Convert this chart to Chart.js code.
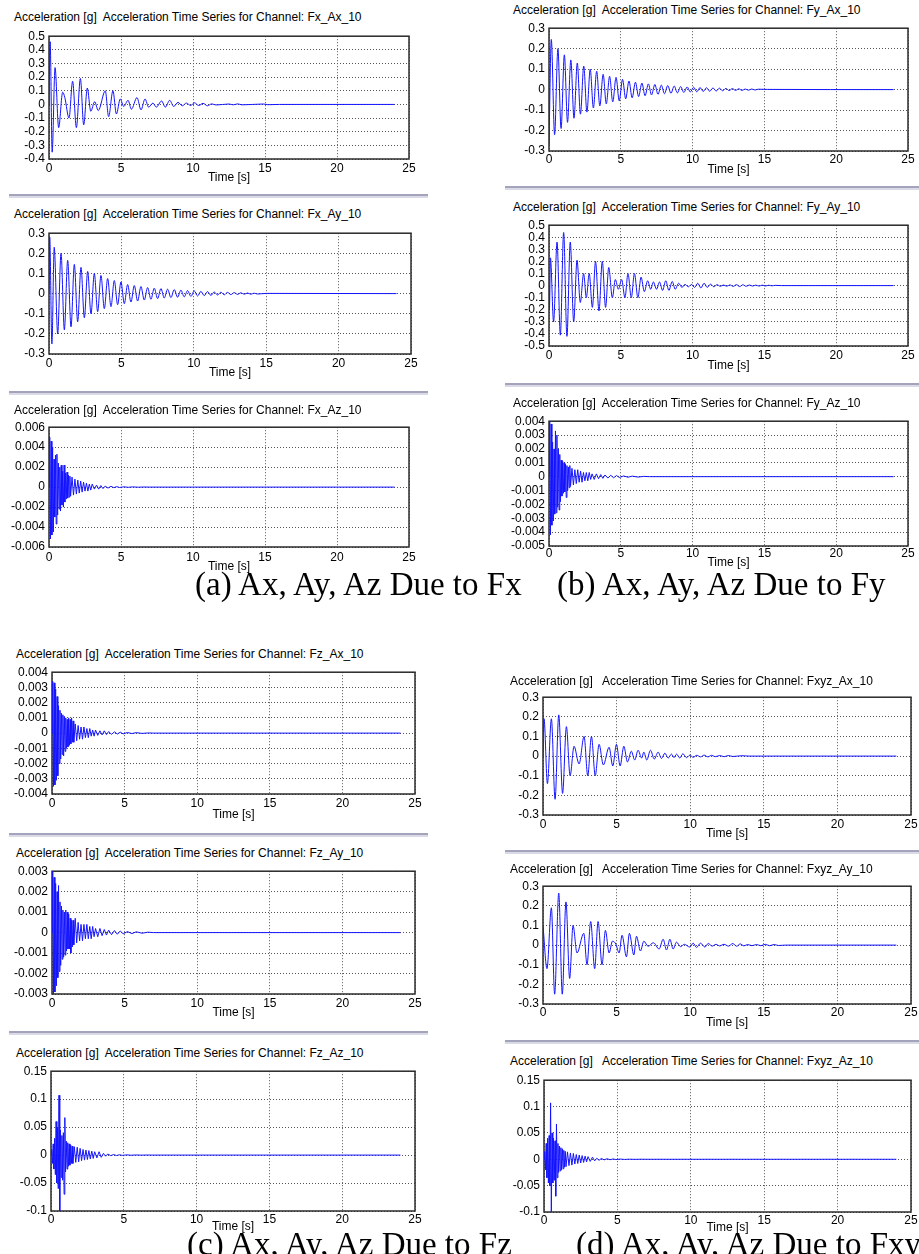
<!DOCTYPE html>
<html>
<head>
<meta charset="utf-8">
<script src="https://cdn.jsdelivr.net/npm/chart.js@4.4.0/dist/chart.umd.min.js"></script>
<style>
  html, body { margin: 0; padding: 0; background: #fff; }
  body { position: relative; width: 919px; height: 1254px; overflow: hidden; font-family: "Liberation Sans", Arial, sans-serif; }
  .ttl { position: absolute; font-size: 12px; line-height: 14px; white-space: pre; color: #000; }
  .cap { position: absolute; font-family: "Liberation Serif", "Times New Roman", serif; font-size: 33px; line-height: 36px; white-space: nowrap; color: #000; }
  .sep { position: absolute; height: 0; border-top: 2px solid #a3a3bb; border-bottom: 2px solid #dadae6; }
</style>
</head>
<body>
<script>
'use strict';

// x axis (time, seconds)
var xTicks = [0, 5, 10, 15, 20, 25];

// y axis ranges: [min, max, step]
var fxAxY = [-0.4, 0.5, 0.1];
var fxAyY = [-0.3, 0.3, 0.1];
var fxAzY = [-0.006, 0.006, 0.002];
var fyAxY = [-0.3, 0.3, 0.1];
var fyAyY = [-0.5, 0.5, 0.1];
var fyAzY = [-0.005, 0.004, 0.001];
var fzAxY = [-0.004, 0.004, 0.001];
var fzAyY = [-0.003, 0.003, 0.001];
var fzAzY = [-0.1, 0.15, 0.05];
var fxyzAxY = [-0.3, 0.3, 0.1];
var fxyzAyY = [-0.3, 0.3, 0.1];
var fxyzAzY = [-0.1, 0.15, 0.05];

// peaks and troughs
var fxAxTime = [0, 0.08, 0.22, 0.42, 0.67, 0.95, 1.1, 1.39, 1.64, 1.9, 2.18, 2.41, 2.66, 2.9, 3.17, 3.42, 3.91, 4.14, 4.44, 4.68,
  4.95, 5.19, 5.49, 5.72, 6.11, 6.39, 6.67, 6.92, 7.22, 7.45, 7.82, 8.08, 8.38, 8.66, 8.96, 9.26, 9.54, 9.84, 10.1, 10.4,
  10.7, 11.0, 11.3, 11.6, 12.5, 12.8, 13.1, 13.4, 14.9, 15.2, 16, 24];
var fxAxVal = [0, 0.46, -0.35, 0.27, -0.17, 0.09, 0.05, -0.10, 0.17, -0.17, 0.19, -0.15, 0.12, -0.05, 0.02, -0.045, 0.10, -0.09, 0.10, -0.07,
  0.04, -0.015, 0.03, -0.035, 0.05, -0.04, 0.04, -0.02, 0.01, -0.02, 0.025, -0.02, 0.03, -0.015, 0.015, -0.01, 0.01, -0.008, 0.012, -0.008,
  0.008, -0.01, 0.004, -0.004, 0.003, -0.003, 0.004, -0.003, 0.003, -0.002, 0, 0];

var fxAyTime = [0, 0.05, 0.2, 0.36, 0.6, 0.83, 1.06, 1.29, 1.52, 1.75, 1.98, 2.21, 2.44, 2.67, 2.9, 3.13, 3.36, 3.59, 3.82, 4.05,
  4.28, 4.51, 4.74, 4.97, 5.2, 5.43, 5.66, 5.89, 6.12, 6.35, 6.58, 6.81, 7.04, 7.27, 7.5, 7.73, 7.96, 8.19, 8.42, 8.65,
  8.88, 9.11, 9.34, 9.57, 9.8, 10.03, 10.26, 10.49, 10.72, 10.95, 11.18, 11.41, 11.64, 11.87, 12.1, 12.33, 12.56, 12.79, 13.02, 13.25,
  13.48, 13.71, 13.94, 14.17, 14.4, 15, 24];
var fxAyVal = [0, 0.28, -0.25, 0.23, -0.20, 0.20, -0.18, 0.165, -0.165, 0.145, -0.14, 0.13, -0.12, 0.11, -0.10, 0.10, -0.09, 0.09, -0.075, 0.075,
  -0.065, 0.065, -0.055, 0.058, -0.05, 0.045, -0.042, 0.04, -0.037, 0.035, -0.032, 0.03, -0.028, 0.027, -0.025, 0.025, -0.022, 0.022, -0.02, 0.02,
  -0.018, 0.017, -0.016, 0.015, -0.014, 0.014, -0.012, 0.011, -0.01, 0.01, -0.009, 0.008, -0.007, 0.007, -0.006, 0.006, -0.005, 0.005, -0.004, 0.004,
  -0.003, 0.003, -0.003, 0.002, -0.002, 0.001, 0];

var fyAxTime = [0, 0.16, 0.39, 0.62, 0.84, 1.07, 1.29, 1.52, 1.74, 1.97, 2.19, 2.42, 2.64, 2.87, 3.09, 3.32, 3.54, 3.77, 3.99, 4.22,
  4.44, 4.67, 4.89, 5.12, 5.34, 5.57, 5.79, 6.02, 6.24, 6.47, 6.69, 6.92, 7.14, 7.37, 7.59, 7.82, 8.04, 8.27, 8.49, 8.72,
  8.94, 9.17, 9.39, 9.62, 9.84, 10.07, 10.29, 10.52, 10.74, 10.97, 11.19, 11.42, 11.64, 11.87, 12.09, 12.32, 12.54, 12.77, 12.99, 13.22,
  13.44, 13.67, 13.89, 14.12, 14.34, 14.57, 15.2, 24];
var fyAxVal = [-0.27, 0.245, -0.22, 0.20, -0.19, 0.17, -0.16, 0.145, -0.14, 0.13, -0.12, 0.115, -0.11, 0.10, -0.09, 0.09, -0.08, 0.075, -0.07, 0.065,
  -0.06, 0.06, -0.055, 0.05, -0.045, 0.042, -0.04, 0.036, -0.034, 0.032, -0.03, 0.028, -0.026, 0.025, -0.023, 0.022, -0.02, 0.02, -0.018, 0.017,
  -0.016, 0.015, -0.014, 0.013, -0.012, 0.012, -0.011, 0.01, -0.009, 0.009, -0.008, 0.008, -0.007, 0.007, -0.006, 0.006, -0.005, 0.005, -0.004, 0.004,
  -0.004, 0.003, -0.003, 0.003, -0.002, 0.002, 0.001, 0];

var fyAyTime = [0, 0.03, 0.1, 0.32, 0.56, 0.79, 1.02, 1.25, 1.48, 1.72, 1.95, 2.18, 2.41, 2.6, 2.8, 3.02, 3.24, 3.48, 3.71, 3.94,
  4.16, 4.41, 4.62, 4.83, 5.06, 5.29, 5.5, 5.73, 5.95, 6.19, 6.41, 6.64, 6.87, 7.08, 7.27, 7.49, 7.7, 7.91, 8.13, 8.35,
  8.58, 8.79, 9.03, 9.26, 9.47, 9.7, 9.93, 10.14, 10.36, 10.58, 10.8, 11.02, 11.25, 11.48, 11.7, 11.93, 12.15, 12.38, 12.6, 12.83,
  13.05, 13.28, 13.5, 13.73, 13.95, 14.18, 14.4, 14.63, 14.85, 15.08, 15.3, 15.53, 15.75, 16.2, 24];
var fyAyVal = [0, -0.2, 0.23, -0.3, 0.36, -0.41, 0.44, -0.42, 0.36, -0.3, 0.21, -0.14, 0.1, -0.1, 0.1, -0.18, 0.2, -0.21, 0.2, -0.18,
  0.15, -0.1, 0.05, -0.03, 0.05, -0.1, 0.1, -0.1, 0.1, -0.1, 0.07, -0.05, 0.04, -0.03, 0.03, -0.03, 0.03, -0.04, 0.04, -0.04,
  0.035, -0.03, 0.02, -0.015, 0.01, -0.01, 0.01, -0.015, 0.02, -0.02, 0.02, -0.015, 0.012, -0.01, 0.008, -0.006, 0.005, -0.005, 0.006, -0.007,
  0.008, -0.008, 0.007, -0.006, 0.005, -0.004, 0.004, -0.004, 0.004, -0.003, 0.003, -0.002, 0.002, 0, 0];

var fxyzAxTime = [0, 0.07, 0.3, 0.57, 0.82, 1.07, 1.33, 1.59, 1.84, 2.11, 2.45, 2.79, 3.04, 3.29, 3.55, 3.81, 4.1, 4.49, 4.74, 4.99,
  5.24, 5.49, 5.74, 6.0, 6.23, 6.46, 6.7, 6.85, 7.05, 7.3, 7.56, 7.82, 8.05, 8.28, 8.5, 8.73, 8.9, 9.07, 9.3, 9.5,
  9.75, 9.98, 10.2, 10.45, 10.7, 10.95, 11.2, 11.45, 11.7, 12.0, 12.3, 12.6, 12.9, 13.5, 14, 24];
var fxyzAxVal = [0, 0.19, -0.14, 0.19, -0.22, 0.21, -0.19, 0.15, -0.1, 0.05, -0.04, 0.1, -0.1, 0.1, -0.1, 0.06, -0.045, 0.045, -0.05, 0.06,
  -0.05, 0.05, -0.03, 0.025, -0.02, 0.03, -0.01, 0.02, -0.02, 0.03, -0.015, 0.02, -0.012, 0.015, -0.01, 0.01, -0.008, 0.01, -0.01, 0.012,
  -0.008, 0.005, -0.006, 0.004, -0.004, 0.005, -0.004, 0.004, -0.003, 0.003, -0.003, 0.003, -0.002, 0.002, 0, 0];

var fxyzAyTime = [0, 0.27, 0.57, 0.79, 1.07, 1.31, 1.56, 1.81, 2.04, 2.31, 2.77, 2.99, 3.24, 3.51, 3.74, 4.01, 4.24, 4.49, 4.72, 4.95,
  5.17, 5.37, 5.67, 5.87, 6.17, 6.35, 6.62, 6.85, 7.14, 7.5, 7.89, 8.16, 8.39, 8.62, 8.84, 9.07, 9.34, 9.6, 9.98, 10.2,
  10.43, 10.7, 11.0, 11.22, 11.5, 11.75, 12.0, 12.3, 12.6, 12.9, 13.15, 13.4, 13.65, 13.9, 14.2, 14.5, 14.8, 15.1, 15.4, 15.7,
  16, 16.5, 24];
var fxyzAyVal = [0.1, -0.12, 0.19, -0.25, 0.265, -0.25, 0.22, -0.17, 0.1, -0.04, 0.06, -0.1, 0.12, -0.12, 0.12, -0.1, 0.075, -0.04, 0.02, 0.005,
  -0.04, 0.05, -0.06, 0.06, -0.05, 0.045, -0.03, 0.02, -0.006, 0.012, -0.02, 0.03, -0.025, 0.03, -0.02, 0.015, -0.008, 0.004, -0.01, 0.01,
  -0.012, 0.01, -0.01, 0.008, -0.005, 0.004, -0.004, 0.004, -0.005, 0.008, -0.006, 0.006, -0.004, 0.003, -0.003, 0.003, -0.003, 0.004, -0.003, 0.003,
  -0.002, 0, 0];

// dense high-frequency traces share one time base
var denseTime = [0, 0.05, 0.1, 0.15, 0.2, 0.25, 0.3, 0.35, 0.4, 0.45,
  0.5, 0.55, 0.6, 0.65, 0.7, 0.75, 0.8, 0.85, 0.9, 0.95,
  1.0, 1.05, 1.1, 1.15, 1.2, 1.25, 1.3, 1.35, 1.4, 1.45,
  1.5, 1.6, 1.7, 1.8, 1.9, 2.0, 2.1, 2.2, 2.3, 2.4,
  2.5, 2.6, 2.7, 2.8, 2.9, 3.0, 3.15, 3.3, 3.45, 3.6,
  3.75, 3.9, 4.1, 4.3, 4.5, 4.7, 4.9, 5.2, 5.5, 5.8,
  6.2, 6.6, 7.0, 24];

var fxAzVal = [0, 0.0050, -0.0052, 0.0046, -0.0048, 0.0040, -0.0045, 0.0028, -0.0030, 0.0032,
  -0.0037, 0.0033, -0.0028, 0.0024, -0.0022, 0.0020, -0.0024, 0.0022, -0.0018, 0.0016,
  -0.0020, 0.0022, -0.0015, 0.0014, -0.0012, 0.0015, -0.0011, 0.0012, -0.0010, 0.0011,
  -0.0009, 0.0010, -0.0008, 0.0008, -0.0007, 0.0007, -0.0006, 0.0006, -0.0005, 0.0005,
  -0.0004, 0.0004, -0.0004, 0.0003, -0.0003, 0.0003, -0.0002, 0.0002, -0.0002, 0.00015,
  -0.00015, 0.0001, -0.0001, 0.00008, -0.00006, 0.00005, -0.00004, 0.00003, -0.00002, 0.00002,
  -0.00001, 0.00001, 0, 0];

var fyAzVal = [0, 0.0040, -0.0042, 0.0038, -0.0035, 0.0025, -0.0032, 0.0020, -0.0027, 0.0033,
  -0.0026, 0.0030, -0.0022, 0.0020, -0.0024, 0.0016, -0.0018, 0.0012, -0.0014, 0.0011,
  -0.0012, 0.0010, -0.0011, 0.0009, -0.0015, 0.0008, -0.0010, 0.0007, -0.0008, 0.0008,
  -0.0007, 0.0006, -0.0006, 0.0005, -0.0005, 0.0005, -0.0004, 0.0004, -0.0004, 0.0003,
  -0.0003, 0.0003, -0.0003, 0.0003, -0.0002, 0.0002, -0.0002, 0.0002, -0.00015, 0.00015,
  -0.00012, 0.00012, -0.0001, 0.0001, -0.00008, 0.00008, -0.00006, 0.00005, -0.00004, 0.00004,
  -0.00003, 0.00002, 0, 0];

var fzAxVal = [0, 0.0034, -0.0035, 0.0033, -0.0034, 0.0029, -0.0031, 0.0024, -0.0028, 0.0018,
  -0.0020, 0.0015, -0.0017, 0.0013, -0.0014, 0.0012, -0.0015, 0.0011, -0.0012, 0.0010,
  -0.0010, 0.0009, -0.0009, 0.0010, -0.0008, 0.0009, -0.0007, 0.0010, -0.0006, 0.0008,
  -0.0006, 0.0006, -0.0005, 0.0005, -0.0004, 0.0004, -0.0004, 0.0004, -0.0003, 0.0003,
  -0.0003, 0.0003, -0.0002, 0.0002, -0.0002, 0.0002, -0.00015, 0.00015, -0.00012, 0.00015,
  -0.0001, 0.0001, -0.00008, 0.00008, -0.00006, 0.00006, -0.00005, 0.00004, -0.00003, 0.00003,
  -0.00002, 0.00001, 0, 0];

var fzAyVal = [0, 0.0030, -0.0030, 0.0027, -0.0029, 0.0024, -0.0026, 0.0020, -0.0022, 0.0023,
  -0.0019, 0.0015, -0.0016, 0.0013, -0.0013, 0.0011, -0.0012, 0.0010, -0.0011, 0.0011,
  -0.0009, 0.0010, -0.0008, 0.0009, -0.0008, 0.0007, -0.0010, 0.0006, -0.0007, 0.0006,
  -0.0006, 0.0007, -0.0005, 0.0005, -0.0004, 0.0004, -0.0004, 0.0004, -0.0003, 0.0004,
  -0.0003, 0.0003, -0.0003, 0.0003, -0.0002, 0.0002, -0.0002, 0.0002, -0.00015, 0.00015,
  -0.00012, 0.00012, -0.0001, 0.0001, -0.00008, 0.00008, -0.00006, 0.00005, -0.00005, 0.00004,
  -0.00003, 0.00002, 0, 0];

var fzAzVal = [0, 0.010, -0.015, 0.020, -0.025, 0.030, -0.035, 0.060, -0.050, 0.050,
  -0.060, 0.107, -0.100, 0.045, -0.040, 0.035, -0.045, 0.040, -0.070, 0.067,
  -0.030, 0.025, -0.025, 0.022, -0.020, 0.020, -0.018, 0.018, -0.015, 0.016,
  -0.015, 0.015, -0.013, 0.014, -0.012, 0.012, -0.010, 0.010, -0.009, 0.009,
  -0.008, 0.008, -0.007, 0.007, -0.006, 0.006, -0.005, 0.006, -0.004, 0.003,
  -0.002, 0.002, -0.001, 0.001, -0.0008, 0.0006, -0.0005, 0.0004, -0.0003, 0.0002,
  -0.0001, 0.0001, 0, 0];

var fxyzAzVal = [0, 0.015, -0.020, 0.030, -0.035, 0.040, -0.045, 0.045, -0.050, 0.107,
  -0.100, 0.050, -0.045, 0.040, -0.040, 0.035, -0.070, 0.067, -0.035, 0.030,
  -0.025, 0.025, -0.022, 0.022, -0.020, 0.020, -0.018, 0.017, -0.015, 0.015,
  -0.014, 0.014, -0.012, 0.012, -0.011, 0.011, -0.009, 0.009, -0.008, 0.008,
  -0.007, 0.007, -0.006, 0.006, -0.005, 0.005, -0.004, 0.004, -0.003, 0.002,
  -0.002, 0.0015, -0.001, 0.001, -0.0008, 0.0006, -0.0005, 0.0004, -0.0003, 0.0002,
  -0.0001, 0.0001, 0, 0];

// layout: plot box [left, top, right, bottom], title [left, centre y], x axis [height, tick padding]
var panels = [
  { name: 'Fx_Ax_10', gap: '  ', t: fxAxTime, v: fxAxVal, y: fxAxY, smooth: true, box: [49, 33, 409, 159], title: [14, 17], xa: [26, 2] },
  { name: 'Fx_Ay_10', gap: '  ', t: fxAyTime, v: fxAyVal, y: fxAyY, smooth: true, box: [49, 230, 411, 354], title: [14, 214], xa: [26, 2] },
  { name: 'Fx_Az_10', gap: '  ', t: denseTime, v: fxAzVal, y: fxAzY, smooth: false, box: [49, 424, 409, 547], title: [14, 410], xa: [27, 3] },
  { name: 'Fy_Ax_10', gap: '  ', t: fyAxTime, v: fyAxVal, y: fyAxY, smooth: true, box: [549, 25, 908, 151], title: [513, 10], xa: [26, 1] },
  { name: 'Fy_Ay_10', gap: '  ', t: fyAyTime, v: fyAyVal, y: fyAyY, smooth: true, box: [549, 222, 908, 346], title: [513, 207], xa: [27, 2] },
  { name: 'Fy_Az_10', gap: '  ', t: denseTime, v: fyAzVal, y: fyAzY, smooth: false, box: [549, 418, 908, 546], title: [513, 403], xa: [24, 0] },
  { name: 'Fz_Ax_10', gap: '  ', t: denseTime, v: fzAxVal, y: fzAxY, smooth: false, box: [52, 669, 415, 794], title: [16, 654], xa: [28, 2] },
  { name: 'Fz_Ay_10', gap: '  ', t: denseTime, v: fzAyVal, y: fzAyY, smooth: false, box: [52, 868, 415, 994], title: [16, 853], xa: [26, 2] },
  { name: 'Fz_Az_10', gap: '  ', t: denseTime, v: fzAzVal, y: fzAzY, smooth: false, box: [51, 1068, 415, 1211], title: [16, 1053], xa: [23, 1] },
  { name: 'Fxyz_Ax_10', gap: '   ', t: fxyzAxTime, v: fxyzAxVal, y: fxyzAxY, smooth: true, box: [543, 694, 911, 815], title: [510, 681], xa: [26, 2] },
  { name: 'Fxyz_Ay_10', gap: '   ', t: fxyzAyTime, v: fxyzAyVal, y: fxyzAyY, smooth: true, box: [543, 883, 911, 1004], title: [510, 869], xa: [26, 1] },
  { name: 'Fxyz_Az_10', gap: '   ', t: denseTime, v: fxyzAzVal, y: fxyzAzY, smooth: false, box: [544, 1077, 911, 1212], title: [510, 1061], xa: [23, 1] }
];

var captions = [
  ['(a) Ax, Ay, Az Due to Fx', 195, 584],
  ['(b) Ax, Ay, Az Due to Fy', 557, 584],
  ['(c) Ax, Ay, Az Due to Fz', 187, 1244],
  ['(d) Ax, Ay, Az Due to Fxy', 576, 1244]
];

// separator lines between the stacked panels: [left, y, width]
var separators = [[9, 196, 419], [9, 393, 419], [505, 188, 414], [505, 385, 414],
  [9, 835, 419], [9, 1033, 419], [505, 852, 414], [505, 1042, 414]];

Chart.defaults.font.family = '"Liberation Sans", Arial, sans-serif';
Chart.defaults.font.size = 12;
Chart.defaults.color = '#000';

// dark box round the plot area, drawn under the trace
var framePlugin = {
  id: 'frame',
  beforeDatasetsDraw: function (chart) {
    var a = chart.chartArea, ctx = chart.ctx;
    ctx.save();
    ctx.strokeStyle = '#2b2b2b';
    ctx.lineWidth = 1.5;
    ctx.strokeRect(a.left, a.top, a.right - a.left, a.bottom - a.top);
    ctx.restore();
  }
};

function tickLabel(v) {
  return String(Math.round(v * 1e6) / 1e6);
}

function buildPanel(p) {
  var L = p.box[0], T = p.box[1], R = p.box[2], B = p.box[3];
  var padL = 50, padT = 8, padR = 14, axisH = p.xa[0];
  var w = R - L + padL + padR, h = B - T + padT + axisH;

  var canvas = document.createElement('canvas');
  canvas.width = w;
  canvas.height = h;
  canvas.style.cssText = 'position:absolute;left:' + (L - padL) + 'px;top:' + (T - padT) + 'px;width:' + w + 'px;height:' + h + 'px';
  document.body.appendChild(canvas);

  var title = document.createElement('div');
  title.className = 'ttl';
  title.style.left = p.title[0] + 'px';
  title.style.top = (p.title[1] - 7) + 'px';
  title.textContent = 'Acceleration [g]' + p.gap + 'Acceleration Time Series for Channel: ' + p.name;
  document.body.appendChild(title);

  var pts = [];
  for (var i = 0; i < p.t.length; i++) {
    pts.push({ x: p.t[i], y: p.v[i] });
  }

  new Chart(canvas.getContext('2d'), {
    type: 'line',
    data: {
      datasets: [{
        data: pts,
        borderColor: '#1414ff',
        borderWidth: 1,
        pointRadius: 0,
        fill: false,
        tension: 0,
        cubicInterpolationMode: p.smooth ? 'monotone' : 'default'
      }]
    },
    options: {
      responsive: false,
      animation: false,
      events: [],
      layout: { padding: { left: 0, top: padT, right: padR, bottom: 0 } },
      plugins: { legend: { display: false }, tooltip: { enabled: false }, title: { display: false } },
      scales: {
        x: {
          type: 'linear',
          min: xTicks[0],
          max: xTicks[xTicks.length - 1],
          ticks: { stepSize: xTicks[1] - xTicks[0], padding: p.xa[1], autoSkip: false, maxRotation: 0, callback: tickLabel },
          grid: { color: '#555', lineWidth: 1, drawTicks: false },
          border: { display: false, dash: [1, 2] },
          title: { display: true, text: 'Time [s]', padding: 0 },
          afterFit: function (s) { s.height = axisH; }
        },
        y: {
          min: p.y[0],
          max: p.y[1],
          ticks: { stepSize: p.y[2], padding: 4, autoSkip: false, callback: tickLabel },
          grid: { color: '#555', lineWidth: 1, drawTicks: false },
          border: { display: false, dash: [1, 2] },
          afterFit: function (s) { s.width = padL; }
        }
      }
    },
    plugins: [framePlugin]
  });
}

separators.forEach(function (s) {
  var d = document.createElement('div');
  d.className = 'sep';
  d.style.left = s[0] + 'px';
  d.style.top = (s[1] - 2) + 'px';
  d.style.width = s[2] + 'px';
  document.body.appendChild(d);
});

panels.forEach(buildPanel);

captions.forEach(function (c) {
  var d = document.createElement('div');
  d.className = 'cap';
  d.style.left = c[1] + 'px';
  d.style.top = (c[2] - 18) + 'px';
  d.textContent = c[0];
  document.body.appendChild(d);
});
</script>
</body>
</html>
